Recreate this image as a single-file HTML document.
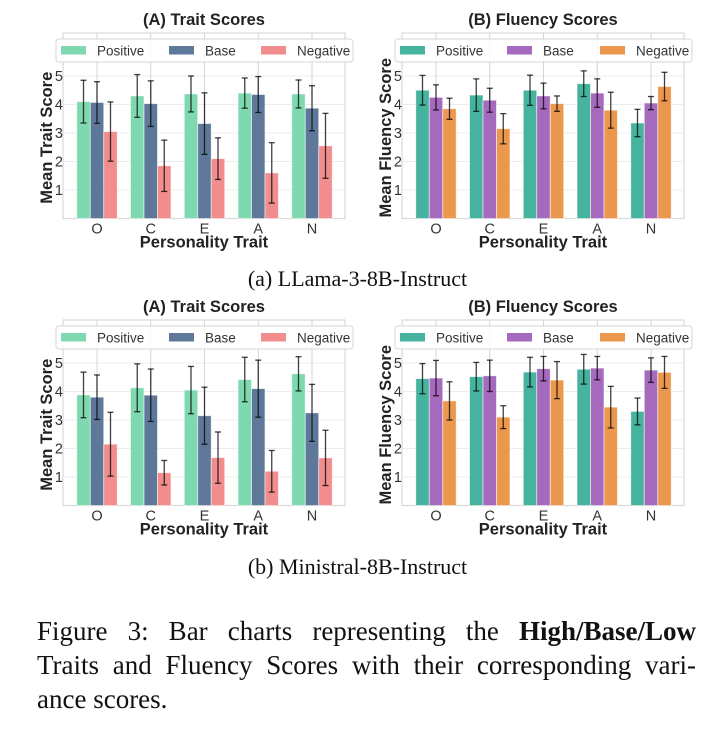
<!DOCTYPE html>
<html><head><meta charset="utf-8"><style>
body{margin:0;background:#fff;width:715px;height:740px;overflow:hidden;position:relative}
svg{position:absolute;left:0;top:0}
.cap{position:absolute;font-family:"Liberation Serif",serif;color:#111}
.ln{position:absolute;left:37px;width:659px;font-family:"Liberation Serif",serif;font-size:27px;color:#111;text-align:justify;text-align-last:justify;white-space:nowrap}
</style></head><body>
<svg id="fig" width="715" height="740"></svg>
<div class="cap" style="left:0;width:715px;text-align:center;top:266px;font-size:22px">(a) LLama-3-8B-Instruct</div>
<div class="cap" style="left:0;width:715px;text-align:center;top:554px;font-size:22px">(b) Ministral-8B-Instruct</div>
<div>
<div class="ln" style="top:616px;white-space:normal">Figure 3: Bar charts representing the <b>High/Base/Low</b></div>
<div class="ln" style="top:650px;white-space:normal">Traits and Fluency Scores with their corresponding vari-</div>
<div class="ln" style="top:684px;text-align-last:left">ance scores.</div>
</div>
<script>
const categories=["O","C","E","A","N"];
const seriesNames=["Positive","Base","Negative"];
const yTicks=[1,2,3,4,5];
// LLama trait
const llamaTraitPos=[4.1,4.3,4.37,4.4,4.37];
const llamaTraitPosErr=[0.75,0.75,0.63,0.53,0.49];
const llamaTraitBase=[4.07,4.03,3.33,4.35,3.87];
const llamaTraitBaseErr=[0.73,0.8,1.08,0.63,0.79];
const llamaTraitNeg=[3.05,1.85,2.1,1.6,2.55];
const llamaTraitNegErr=[1.04,0.9,0.73,1.06,1.14];
// LLama fluency
const llamaFluPos=[4.5,4.33,4.5,4.73,3.35];
const llamaFluPosErr=[0.52,0.57,0.53,0.45,0.48];
const llamaFluBase=[4.25,4.15,4.3,4.4,4.05];
const llamaFluBaseErr=[0.44,0.42,0.45,0.5,0.23];
const llamaFluNeg=[3.85,3.15,4.03,3.8,4.63];
const llamaFluNegErr=[0.37,0.53,0.27,0.63,0.5];
// Ministral trait
const minTraitPos=[3.88,4.13,4.05,4.42,4.62];
const minTraitPosErr=[0.8,0.84,0.83,0.78,0.6];
const minTraitBase=[3.8,3.87,3.15,4.1,3.25];
const minTraitBaseErr=[0.78,0.92,1.0,1.0,1.0];
const minTraitNeg=[2.15,1.15,1.68,1.2,1.67];
const minTraitNegErr=[1.12,0.43,0.9,0.73,0.97];
// Ministral fluency
const minFluPos=[4.45,4.52,4.68,4.78,3.3];
const minFluPosErr=[0.53,0.5,0.52,0.52,0.47];
const minFluBase=[4.47,4.55,4.8,4.82,4.75];
const minFluBaseErr=[0.62,0.55,0.43,0.41,0.43];
const minFluNeg=[3.67,3.1,4.4,3.45,4.67];
const minFluNegErr=[0.67,0.4,0.65,0.73,0.56];

const NS="http://www.w3.org/2000/svg";
const svg=document.getElementById('fig');
function mk(tag,attrs,parent,text){const e=document.createElementNS(NS,tag);for(const k in attrs)e.setAttribute(k,attrs[k]);if(text!==undefined)e.textContent=text;(parent||svg).appendChild(e);return e;}

function chart(cfg){
  const g=mk('g',{});
  
  
  const x0=cfg.x0,x1=x0+282,yT=cfg.yT,yB=yT+185.5;
  const unit=28.5;
  const y=v=>yB-v*unit;
  const xc=i=>x0+34+i*53.75;
  const F='"Liberation Sans",sans-serif';
  mk('rect',{x:x0,y:yT,width:x1-x0,height:yB-yT,fill:'#fff',stroke:'#d8d8d8','stroke-width':1.2},g);
  yTicks.forEach(t=>{
    const l=mk('line',{x1:x0,x2:x1,y1:y(t),y2:y(t),stroke:'#ececec','stroke-width':1},g);
    
    const tx=mk('text',{x:x0,y:y(t)+5,'text-anchor':'end','font-family':F,'font-size':14.5,fill:'#333'},g,String(t));
    
  });
  categories.forEach((c,i)=>{
    const l=mk('line',{x1:xc(i),x2:xc(i),y1:yT,y2:yB,stroke:'#d4d4d4','stroke-width':1},g);
    
    const tx=mk('text',{x:xc(i),y:yB+15,'text-anchor':'middle','font-family':F,'font-size':14.5,fill:'#333'},g,c);
    
  });
  const series=[[cfg.pos,cfg.posE],[cfg.base,cfg.baseE],[cfg.neg,cfg.negE]];
  series.forEach((s,si)=>{
    categories.forEach((c,i)=>{
      const cx=xc(i)+(si-1)*13.5;
      const v=s[0][i],e=s[1][i];
      const b=mk('rect',{x:cx-6.7,y:y(v),width:13.4,height:yB-y(v),fill:cfg.colors[si],stroke:'#fff','stroke-width':0.8,'stroke-opacity':0.6},g);
      
      
      const eg=mk('g',{stroke:'#000','stroke-opacity':0.75,'stroke-width':1.3},g);
      
      
      mk('line',{x1:cx,x2:cx,y1:y(v-e),y2:y(v+e)},eg);
      mk('line',{x1:cx-3,x2:cx+3,y1:y(v-e),y2:y(v-e)},eg);
      mk('line',{x1:cx-3,x2:cx+3,y1:y(v+e),y2:y(v+e)},eg);
    });
  });
  const lg=mk('g',{},g);
  
  
  mk('rect',{x:cfg.lx,y:yT+6,width:cfg.lw,height:23,rx:3,fill:'#fff','fill-opacity':0.85,stroke:'#d6d6d6'},lg);
  series.forEach((s,si)=>{
    const px=cfg.lx+cfg.legOff[si];
    const r=mk('rect',{x:px,y:yT+13,width:25,height:8.5,fill:cfg.colors[si]},lg);
    
    const t=mk('text',{x:px+36,y:yT+22.5,'font-family':F,'font-size':13.5,fill:'#333'},lg,seriesNames[si]);
    
  });
  const ti=mk('text',{x:(x0+x1)/2,y:yT-8,'text-anchor':'middle','font-family':F,'font-size':16.5,'font-weight':'bold',fill:'#222'},g,cfg.title);
  
  const xl=mk('text',{x:(x0+x1)/2,y:yB+29,'text-anchor':'middle','font-family':F,'font-size':16.5,'font-weight':'bold',fill:'#222'},g,'Personality Trait');
  
  const yl=mk('text',{x:0,y:0,'text-anchor':'middle','font-family':F,'font-size':16.5,'font-weight':'bold',fill:'#222',transform:`translate(${x0-11},${(yT+yB)/2+12}) rotate(-90)`},g,cfg.ylabel);
  
}
const tc=['#7ed9b0','#5e7899','#f18d8d'];
const fc=['#45b39d','#a569bd','#eb984e'];
chart({name:'llama-trait-chart',x0:63,yT:33,title:'(A) Trait Scores',ylabel:'Mean Trait Score',colors:tc,pos:llamaTraitPos,posE:llamaTraitPosErr,base:llamaTraitBase,baseE:llamaTraitBaseErr,neg:llamaTraitNeg,negE:llamaTraitNegErr,lx:56,lw:297,legOff:[5,113,205]});
chart({name:'llama-fluency-chart',x0:402,yT:33,title:'(B) Fluency Scores',ylabel:'Mean Fluency Score',colors:fc,pos:llamaFluPos,posE:llamaFluPosErr,base:llamaFluBase,baseE:llamaFluBaseErr,neg:llamaFluNeg,negE:llamaFluNegErr,lx:395,lw:297,legOff:[5,112,205]});
chart({name:'ministral-trait-chart',x0:63,yT:320,title:'(A) Trait Scores',ylabel:'Mean Trait Score',colors:tc,pos:minTraitPos,posE:minTraitPosErr,base:minTraitBase,baseE:minTraitBaseErr,neg:minTraitNeg,negE:minTraitNegErr,lx:56,lw:297,legOff:[5,113,205]});
chart({name:'ministral-fluency-chart',x0:402,yT:320,title:'(B) Fluency Scores',ylabel:'Mean Fluency Score',colors:fc,pos:minFluPos,posE:minFluPosErr,base:minFluBase,baseE:minFluBaseErr,neg:minFluNeg,negE:minFluNegErr,lx:395,lw:297,legOff:[5,112,205]});
</script>
</body></html>
